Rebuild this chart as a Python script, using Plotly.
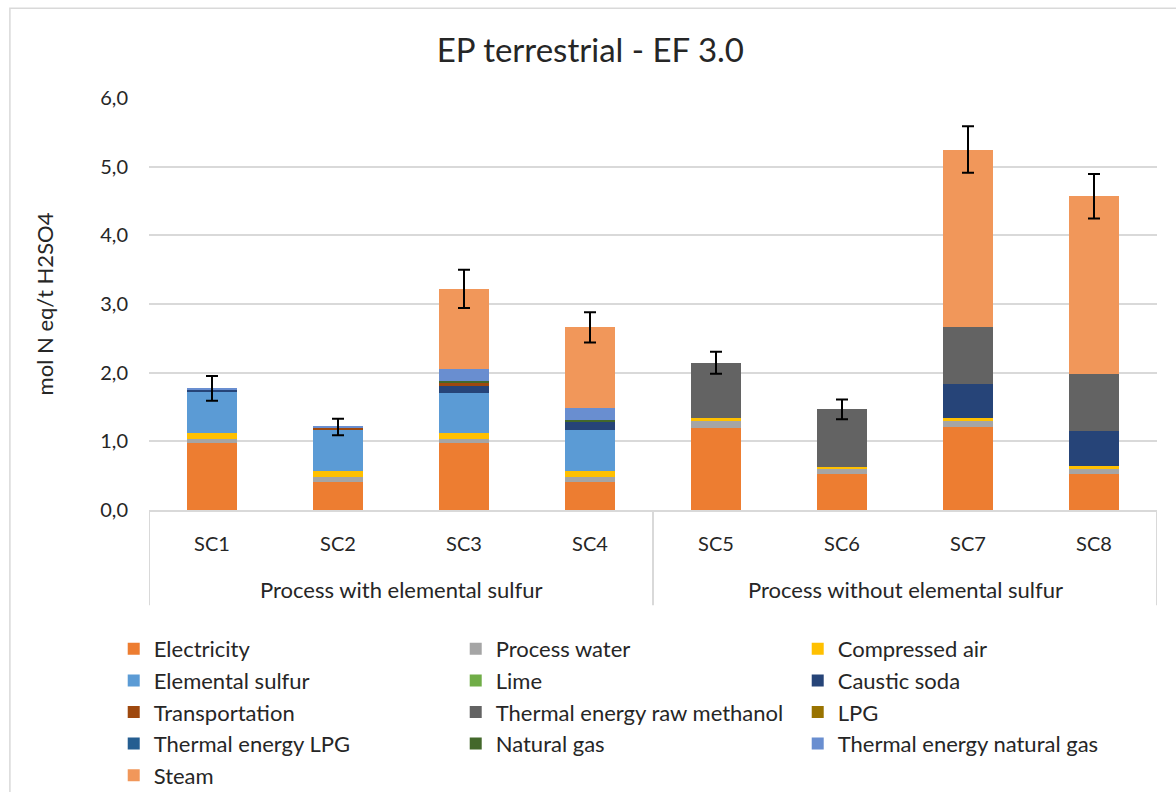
import plotly.graph_objects as go

# Scenarios and their process groups
groups = ["Process with elemental sulfur"] * 4 + ["Process without elemental sulfur"] * 4
scenarios = ["SC1", "SC2", "SC3", "SC4", "SC5", "SC6", "SC7", "SC8"]

# Contributions per source (mol N eq/t H2SO4)
electricity = [0.98, 0.41, 0.98, 0.41, 1.20, 0.525, 1.21, 0.53]
process_water = [0.05, 0.07, 0.05, 0.07, 0.10, 0.075, 0.09, 0.07]
compressed_air = [0.095, 0.085, 0.095, 0.085, 0.035, 0.03, 0.035, 0.04]
elemental_sulfur = [0.595, 0.60, 0.585, 0.60, 0, 0, 0, 0]
lime = [0, 0, 0, 0, 0, 0, 0, 0]
caustic_soda = [0.04, 0.01, 0.11, 0.115, 0, 0, 0.495, 0.505]
transportation = [0, 0.02, 0.025, 0, 0, 0, 0, 0]
thermal_raw_methanol = [0, 0, 0, 0, 0.81, 0.835, 0.83, 0.835]
lpg = [0, 0, 0, 0, 0, 0, 0, 0]
thermal_lpg = [0, 0, 0, 0, 0, 0, 0, 0]
natural_gas = [0, 0, 0.035, 0.035, 0, 0, 0, 0]
thermal_natural_gas = [0.01, 0.015, 0.17, 0.175, 0, 0, 0, 0]
steam = [0, 0, 1.17, 1.17, 0, 0, 2.59, 2.59]

# Uncertainty on the total
errors = [0.18, 0.12, 0.28, 0.22, 0.16, 0.145, 0.34, 0.325]

series = [
    ("Electricity", electricity, "#ED7D31"),
    ("Process water", process_water, "#A5A5A5"),
    ("Compressed air", compressed_air, "#FFC000"),
    ("Elemental sulfur", elemental_sulfur, "#5B9BD5"),
    ("Lime", lime, "#70AD47"),
    ("Caustic soda", caustic_soda, "#264478"),
    ("Transportation", transportation, "#9E480E"),
    ("Thermal energy raw methanol", thermal_raw_methanol, "#636363"),
    ("LPG", lpg, "#997300"),
    ("Thermal energy LPG", thermal_lpg, "#255E91"),
    ("Natural gas", natural_gas, "#43682B"),
    ("Thermal energy natural gas", thermal_natural_gas, "#698ED0"),
    ("Steam", steam, "#F1975A"),
]

FONT = "Lato"
TEXT = "#262626"
GRID = "#D9D9D9"

fig = go.Figure()
for name, vals, color in series:
    fig.add_trace(go.Bar(
        x=scenarios, y=vals, name=name,
        marker=dict(color=color, line=dict(width=0)),
    ))

totals = [sum(v[i] for _, v, _ in series) for i in range(len(scenarios))]
fig.add_trace(go.Scatter(
    x=scenarios, y=totals, mode="markers", showlegend=False, hoverinfo="skip",
    marker=dict(size=1, opacity=0),
    error_y=dict(type="data", array=errors, visible=True,
                 color="black", thickness=2, width=6),
))

# Group labels under the scenario labels, with dividers at group edges
annotations = []
shapes = []
edges = [-0.5]
start = 0
for i in range(1, len(groups) + 1):
    if i == len(groups) or groups[i] != groups[start]:
        annotations.append(dict(
            x=(start + i - 1) / 2, xref="x", y=-0.192, yref="paper",
            text=groups[start], showarrow=False, xanchor="center", yanchor="middle",
            font=dict(family=FONT, size=22, color=TEXT),
        ))
        edges.append(i - 0.5)
        start = i
for e in edges:
    shapes.append(dict(type="line", xref="x", yref="paper", x0=e, x1=e, y0=0, y1=-0.231,
                       line=dict(color=GRID, width=2)))

# Outer chart frame
shapes.append(dict(type="rect", xref="paper", yref="paper",
                   x0=-0.138, x1=1.2, y0=-1.0, y1=1.218,
                   line=dict(color=GRID, width=1.5), layer="below"))

fig.update_layout(
    width=1176, height=792,
    barmode="stack", bargap=0.6,
    separators=", ",
    paper_bgcolor="white", plot_bgcolor="white",
    margin=dict(l=149, r=19, t=98, b=282, autoexpand=False),
    font=dict(family=FONT, color=TEXT, size=20),
    title=dict(text="EP terrestrial - EF 3.0", x=0.502, xanchor="center",
               y=0.936, yanchor="middle",
               font=dict(family=FONT, size=33, color=TEXT)),
    showlegend=True,
    legend=dict(orientation="h", x=-0.035, xanchor="left",
                y=-0.2864, yanchor="top",
                entrywidth=297, entrywidthmode="pixels",
                font=dict(family=FONT, size=22, color=TEXT),
                traceorder="normal"),
    xaxis=dict(
        type="category", categoryorder="array", categoryarray=scenarios,
        range=[-0.5, len(scenarios) - 0.5], automargin=False,
        showline=True, linecolor=GRID, linewidth=2,
        ticks="", ticklabelstandoff=15,
        tickfont=dict(family=FONT, size=20, color=TEXT),
        showgrid=False,
    ),
    yaxis=dict(
        range=[0, 6], dtick=1, tickformat=".1f", automargin=False,
        showgrid=True, gridcolor=GRID, gridwidth=1.5,
        zeroline=False, showline=False, ticks="",
        ticklabelstandoff=20,
        tickfont=dict(family=FONT, size=20, color=TEXT),
        title=dict(text="mol N eq/t H2SO4", standoff=40,
                   font=dict(family=FONT, size=22, color=TEXT)),
    ),
    annotations=annotations,
    shapes=shapes,
)

fig.write_html("out.html")
